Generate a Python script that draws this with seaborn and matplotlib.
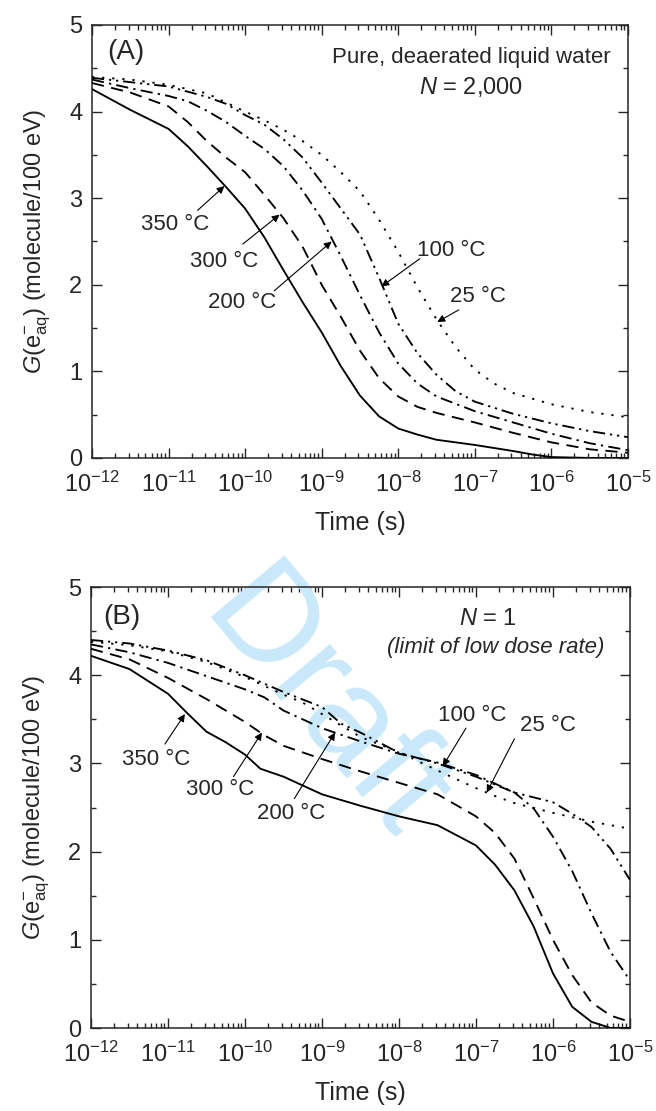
import numpy as np
import pandas as pd
import matplotlib
matplotlib.use("Agg")
import matplotlib.pyplot as plt
from matplotlib.ticker import LogLocator, NullFormatter, MultipleLocator, FixedLocator, FixedFormatter
import seaborn as sns

# ---------------- data (log10 time in s, G in molecule/100 eV) ----------------
# Panel A : N = 2,000
a350_logt = [-12, -11.5, -11, -10.75, -10.5, -10.25, -10, -9.75, -9.5, -9.25, -9, -8.75, -8.5, -8.25, -8, -7.75, -7.5, -7, -6.5, -6.25, -6, -5.5, -5]
a350_g    = [4.26, 4.02, 3.80, 3.60, 3.37, 3.13, 2.88, 2.55, 2.17, 1.80, 1.45, 1.06, 0.72, 0.48, 0.34, 0.27, 0.21, 0.15, 0.08, 0.04, 0.01, 0.0, 0.0]

a300_logt = [-12, -11.5, -11, -10.75, -10.5, -10.25, -10, -9.75, -9.5, -9.25, -9, -8.75, -8.5, -8.25, -8, -7.75, -7.5, -7, -6.5, -6, -5.5, -5]
a300_g    = [4.33, 4.22, 4.06, 3.88, 3.66, 3.47, 3.30, 3.04, 2.77, 2.44, 2.00, 1.63, 1.24, 0.92, 0.71, 0.59, 0.52, 0.41, 0.29, 0.18, 0.10, 0.06]

a200_logt = [-12, -11.5, -11, -10.75, -10.5, -10.25, -10, -9.75, -9.5, -9.25, -9, -8.75, -8.5, -8.25, -8, -7.75, -7.5, -7, -6.5, -6, -5.5, -5]
a200_g    = [4.37, 4.27, 4.18, 4.12, 4.01, 3.88, 3.72, 3.57, 3.37, 3.09, 2.76, 2.33, 1.88, 1.45, 1.09, 0.86, 0.71, 0.54, 0.41, 0.28, 0.17, 0.09]

a100_logt = [-12, -11.5, -11, -10.5, -10.25, -10, -9.75, -9.5, -9.25, -9, -8.75, -8.5, -8.25, -8, -7.75, -7.5, -7.25, -7, -6.5, -6, -5.5, -5]
a100_g    = [4.39, 4.34, 4.29, 4.17, 4.09, 3.96, 3.85, 3.68, 3.47, 3.18, 2.88, 2.58, 2.08, 1.55, 1.21, 0.96, 0.77, 0.65, 0.51, 0.40, 0.31, 0.24]

a25_logt = [-12, -11.5, -11, -10.5, -10, -9.75, -9.5, -9.25, -9, -8.75, -8.5, -8.25, -8, -7.75, -7.5, -7.25, -7, -6.75, -6.5, -6, -5.5, -5]
a25_g    = [4.40, 4.37, 4.31, 4.21, 4.00, 3.90, 3.79, 3.66, 3.50, 3.30, 3.08, 2.75, 2.38, 1.97, 1.60, 1.28, 1.02, 0.86, 0.75, 0.62, 0.53, 0.47]

# Panel B : N = 1
b350_logt = [-12, -11.5, -11, -10.75, -10.5, -10.25, -10, -9.8, -9.5, -9.25, -9, -8.5, -8, -7.5, -7, -6.75, -6.5, -6.25, -6, -5.75, -5.5, -5.25, -5]
b350_g    = [4.22, 4.07, 3.79, 3.57, 3.36, 3.24, 3.10, 2.94, 2.85, 2.75, 2.65, 2.52, 2.40, 2.30, 2.07, 1.85, 1.56, 1.15, 0.62, 0.24, 0.07, 0.0, 0.0]

b300_logt = [-12, -11.5, -11, -10.5, -10, -9.75, -9.5, -9, -8.5, -8, -7.5, -7, -6.75, -6.5, -6.25, -6, -5.75, -5.5, -5.25, -5]
b300_g    = [4.30, 4.18, 3.97, 3.73, 3.47, 3.32, 3.20, 3.05, 2.91, 2.78, 2.65, 2.40, 2.21, 1.92, 1.47, 1.00, 0.60, 0.29, 0.14, 0.07]

b200_logt = [-12, -11.5, -11, -10.5, -10, -9.75, -9.5, -9.25, -9, -8.5, -8, -7.5, -7, -6.75, -6.5, -6.25, -6, -5.75, -5.5, -5.25, -5]
b200_g    = [4.35, 4.26, 4.14, 3.99, 3.84, 3.75, 3.60, 3.50, 3.40, 3.25, 3.11, 3.01, 2.87, 2.77, 2.67, 2.49, 2.17, 1.78, 1.30, 0.86, 0.54]

b100_logt = [-12, -11.5, -11, -10.5, -10, -9.5, -9, -8.75, -8.5, -8, -7.5, -7, -6.5, -6, -5.75, -5.5, -5.25, -5]
b100_g    = [4.40, 4.36, 4.28, 4.17, 4.00, 3.81, 3.64, 3.45, 3.35, 3.12, 3.00, 2.85, 2.67, 2.56, 2.43, 2.28, 2.03, 1.68]

b25_logt = [-12, -11.5, -11, -10.5, -10, -9.5, -9.25, -9, -8.75, -8.5, -8, -7.5, -7, -6.75, -6.5, -6, -5.5, -5]
b25_g    = [4.38, 4.34, 4.27, 4.15, 3.98, 3.78, 3.69, 3.56, 3.43, 3.30, 3.13, 2.92, 2.72, 2.63, 2.55, 2.44, 2.34, 2.26]

temps = ["350 °C", "300 °C", "200 °C", "100 °C", "25 °C"]
decade_exps = [-12, -11, -10, -9, -8, -7, -6, -5]
y_ticks = [0, 1, 2, 3, 4, 5]

# label / arrow positions (log10 t, G): label, arrow tail, arrow tip
annA = {"350 °C": ((-10.91, 2.70), (-10.62, 2.86), (-10.27, 3.14)),
        "300 °C": ((-10.28, 2.27), (-10.03, 2.47), (-9.55, 2.81)),
        "200 °C": ((-10.04, 1.80), (-9.62, 1.93), (-8.87, 2.50)),
        "100 °C": ((-7.31, 2.40), (-7.72, 2.30), (-8.22, 1.98)),
        "25 °C":  ((-6.96, 1.86), (-7.21, 1.71), (-7.49, 1.57))}
annB = {"350 °C": ((-11.16, 3.04), (-11.04, 3.22), (-10.78, 3.56)),
        "300 °C": ((-10.32, 2.70), (-10.15, 2.85), (-9.78, 3.35)),
        "200 °C": ((-9.40, 2.43), (-9.36, 2.60), (-8.83, 3.35)),
        "100 °C": ((-7.05, 3.54), (-7.13, 3.40), (-7.43, 2.97)),
        "25 °C":  ((-6.06, 3.43), (-6.50, 3.28), (-6.86, 2.67))}

# ---------------- style ----------------
sns.set_style("ticks")
REG = ["Liberation Sans", "DejaVu Sans"]
plt.rcParams["font.family"] = REG
plt.rcParams["mathtext.fontset"] = "custom"
plt.rcParams["mathtext.rm"] = "Liberation Sans"
plt.rcParams["mathtext.it"] = "Liberation Sans:italic"
plt.rcParams["mathtext.default"] = "regular"
plt.rcParams["axes.linewidth"] = 1.1

styles = ["-", (0, (6.5, 4.0)), (0, (6.5, 2.8, 1.2, 2.8)),
          (0, (6.5, 2.6, 1.2, 2.6, 1.2, 2.6)), (0, (1.2, 4.2))]

fig = plt.figure(figsize=(6.56, 11.11), dpi=100)
axA = fig.add_axes([0.1402, 0.5878, 0.8171, 0.3897])
axB = fig.add_axes([0.1387, 0.0747, 0.8216, 0.3969])

seriesA = [(a350_logt, a350_g), (a300_logt, a300_g), (a200_logt, a200_g), (a100_logt, a100_g), (a25_logt, a25_g)]
seriesB = [(b350_logt, b350_g), (b300_logt, b300_g), (b200_logt, b200_g), (b100_logt, b100_g), (b25_logt, b25_g)]


def draw_panel(ax, series, ann):
    for (lt, g), ls, name in zip(series, styles, temps):
        df = pd.DataFrame({"t": np.power(10.0, lt), "G": g})
        sns.lineplot(data=df, x="t", y="G", ax=ax, color="black", linestyle=ls,
                     linewidth=1.35, estimator=None, sort=False, zorder=3)
    ax.set_xscale("log")
    ax.set_xlim(1e-12, 1e-5)
    ax.set_ylim(0, 5)
    ax.xaxis.set_major_locator(FixedLocator([10.0 ** e for e in decade_exps]))
    ax.xaxis.set_major_formatter(FixedFormatter([r"$10^{%d}$" % e for e in decade_exps]))
    ax.xaxis.set_minor_locator(LogLocator(base=10, subs=np.arange(2, 10), numticks=30))
    ax.xaxis.set_minor_formatter(NullFormatter())
    ax.yaxis.set_major_locator(FixedLocator(y_ticks))
    ax.yaxis.set_major_formatter(FixedFormatter([str(v) for v in y_ticks]))
    ax.yaxis.set_minor_locator(MultipleLocator(0.5))
    ax.tick_params(which="both", direction="in", top=True, right=True, width=1.0)
    ax.tick_params(which="major", length=7, labelsize=17)
    ax.tick_params(axis="x", which="major", pad=10)
    ax.tick_params(axis="y", which="major", pad=7)
    ax.tick_params(which="minor", length=3.5)
    ax.set_xlabel("Time (s)", fontsize=18, labelpad=10)
    ax.set_ylabel(r"$\mathit{G}$(e$^{-}_{\mathrm{aq}}$) (molecule/100 eV)", fontsize=17,
                  labelpad=12)
    for name, (lab, tail, tip) in ann.items():
        ax.text(10 ** lab[0], lab[1], name, fontsize=16, ha="center", va="center")
        ax.annotate("", xy=(10 ** tip[0], tip[1]), xytext=(10 ** tail[0], tail[1]),
                    arrowprops=dict(arrowstyle="-|>", color="black", lw=0.8,
                                    mutation_scale=11, shrinkA=0, shrinkB=0))


draw_panel(axA, seriesA, annA)
draw_panel(axB, seriesB, annB)

axA.text(0.028, 0.937, "(A)", transform=axA.transAxes, fontsize=20, ha="left", va="center")
axA.text(0.968, 0.926, "Pure, deaerated liquid water", transform=axA.transAxes,
         fontsize=16, ha="right", va="center")
axA.text(0.707, 0.857, r"$\mathit{N}$ = 2,000", transform=axA.transAxes,
         fontsize=17, ha="center", va="center")

axB.text(0.022, 0.932, "(B)", transform=axB.transAxes, fontsize=20, ha="left", va="center")
axB.text(0.737, 0.927, r"$\mathit{N}$ = 1", transform=axB.transAxes,
         fontsize=17, ha="center", va="center")
axB.text(0.751, 0.862, "(limit of low dose rate)", transform=axB.transAxes,
         fontsize=16, ha="center", va="center", style="italic")

# watermark
axB.text(0.492, 0.362, "Draft", transform=fig.transFigure, fontsize=100,
         color="#c9e9fb", rotation=-50, ha="center", va="center",
         zorder=1, clip_on=False)

fig.savefig("out.png", dpi=100)
